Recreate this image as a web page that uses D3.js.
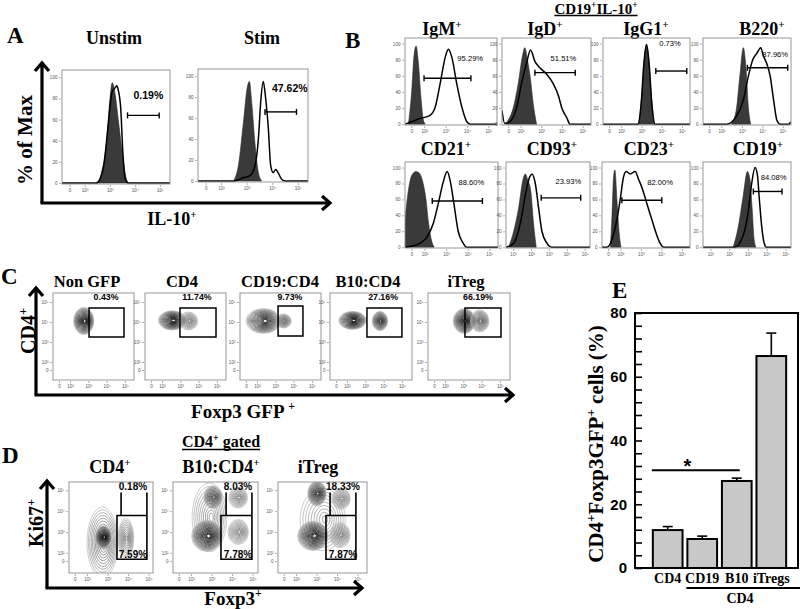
<!DOCTYPE html>
<html><head><meta charset="utf-8">
<script src="https://cdn.jsdelivr.net/npm/d3@7"></script>
<style>body{margin:0;background:#fff}svg{display:block}</style>
</head><body>
<svg id="c" width="800" height="609" xmlns="http://www.w3.org/2000/svg"></svg>
<script>
// ================= DATA =================
// ---- Panel E (bar chart) ----
const eCategories = ["CD4", "CD19", "B10", "iTregs"];
const eValues = [11.9, 9.1, 27.3, 66.5];
const eErrors = [1.1, 0.9, 0.9, 7.2];
const eYTicks = [0, 20, 40, 60, 80];
const eSigLevel = 30.7;
const eSigLabel = "*";
const eGroupLabel = "CD4";

// ---- Flow axis tick labels (log-decade units) ----
const tickLabelsZero = ["0", "10²", "10³", "10⁴", "10⁵"];
const tickPosZero = [1.4, 2, 3, 4, 5];
const tickLabelsTen = ["10¹", "10²", "10³", "10⁴", "10⁵"];
const tickPosTen = [1, 2, 3, 4, 5];
const histYTicks = [0, 20, 40, 60, 80, 100];
const dotYLabels = ["0", "10²", "10³", "10⁴", "10⁵"];
const dotYPos = [1.6, 2, 3, 4, 5];

// ---- Panel A (IL-10 histograms) ----
const aTitles = ["Unstim", "Stim"];
const aPercents = ["0.19%", "47.62%"];
const aFill = [
  [[2.48,0],[2.68,10],[2.88,40],[3.01,80],[3.1,95],[3.21,85],[3.34,60],[3.52,25],[3.67,3],[3.74,0]],
  [[2.49,0],[2.68,15],[2.87,55],[3.03,90],[3.11,95],[3.2,75],[3.33,35],[3.46,8],[3.59,0]]
];
const aLine = [
  [[1.1,0],[2.48,0],[2.75,15],[2.94,55],[3.08,85],[3.14,88],[3.21,90],[3.28,92],[3.34,88],[3.44,70],[3.52,30],[3.61,5],[3.74,0],[5.4,0]],
  [[1.1,0],[2.49,0],[2.87,3],[3.13,5],[3.33,15],[3.46,40],[3.55,75],[3.65,95],[3.74,80],[3.85,50],[3.94,15],[4.04,8],[4.14,11],[4.23,8],[4.36,2],[4.49,0],[5.4,0]]
];
const aGates = [[3.71, 4.97, 64], [3.72, 4.95, 66]];
const aLabelAt = [[4.54, 80], [4.69, 85]];

// ---- Panel B (CD19+IL-10+ phenotype histograms) ----
const bHeader = ["CD19", "^+", "IL-10", "^+"];
const bTitles = ["IgM", "IgD", "IgG1", "B220", "CD21", "CD93", "CD23", "CD19"];
const bPercents = ["95.29%", "51.51%", "0.73%", "87.96%", "88.60%", "23.93%", "82.00%", "84.08%"];
const bTickStyle = ["zero", "zero", "zero", "zero", "zero", "ten", "zero", "ten"];
const bFill = [
  [[1.26,0],[1.41,40],[1.52,85],[1.62,97],[1.73,75],[1.84,35],[1.96,5],[2.05,0]],
  [[1.31,2],[1.64,20],[1.88,50],[2.09,85],[2.2,95],[2.33,80],[2.48,55],[2.61,25],[2.77,0]],
  [[2.84,0],[3.0,30],[3.12,75],[3.25,99],[3.38,75],[3.5,30],[3.66,0]],
  [[2.49,0],[2.74,20],[2.9,60],[3.07,95],[3.2,70],[3.32,20],[3.43,0]],
  [[1.1,35],[1.25,70],[1.41,90],[1.61,95],[1.79,92],[1.94,80],[2.07,60],[2.19,30],[2.33,8],[2.45,0]],
  [[0.75,0],[1.03,20],[1.31,50],[1.55,85],[1.68,92],[1.81,85],[1.99,70],[2.14,30],[2.29,0]],
  [[1.51,0],[1.59,40],[1.67,90],[1.73,97],[1.83,60],[1.93,20],[2.03,0]],
  [[2.21,0],[2.48,25],[2.75,65],[2.97,95],[3.11,85],[3.22,50],[3.33,10],[3.43,0]]
];
const bLine = [
  [[1.1,0],[1.4,3],[1.8,7],[2.27,11],[2.51,21],[2.74,50],[2.98,83],[3.13,93],[3.29,83],[3.52,50],[3.76,21],[3.99,3],[4.15,0],[5.4,0]],
  [[1.1,17],[1.23,1],[1.47,3],[1.8,20],[2.04,50],[2.28,75],[2.48,92],[2.69,78],[2.93,70],[3.26,62],[3.58,50],[3.83,35],[3.99,20],[4.23,8],[4.39,0],[5.4,0]],
  [[1.1,0],[2.84,0],[3.0,30],[3.12,75],[3.25,99],[3.38,75],[3.5,30],[3.66,0],[5.4,0]],
  [[1.1,0],[2.25,0],[2.74,10],[3.07,30],[3.32,60],[3.53,80],[3.73,88],[3.92,95],[4.05,85],[4.22,75],[4.38,60],[4.55,30],[4.71,5],[4.87,0],[5.3,0],[5.38,3]],
  [[1.1,0],[1.64,3],[2.1,12],[2.41,30],[2.64,55],[2.87,82],[3.05,95],[3.2,82],[3.36,55],[3.56,20],[3.79,5],[3.94,0],[5.4,0]],
  [[0.6,0],[1.03,5],[1.4,30],[1.68,65],[1.92,88],[2.05,92],[2.24,80],[2.42,50],[2.61,20],[2.89,5],[3.16,0],[5.3,0]],
  [[1.1,0],[1.34,0],[1.59,10],[1.83,35],[1.99,60],[2.15,88],[2.28,95],[2.48,92],[2.72,95],[2.89,85],[3.05,75],[3.29,55],[3.53,35],[3.78,15],[3.94,5],[4.1,0],[5.4,0]],
  [[0.6,0],[2.3,0],[2.75,15],[3.02,45],[3.2,80],[3.38,100],[3.51,90],[3.61,60],[3.74,25],[3.87,5],[3.99,0],[5.3,0]]
];
const bGates = [[1.99,4.18,57],[2.69,4.64,64],[3.71,5.24,66],[3.27,5.24,70],[2.36,4.68,58],[2.57,4.78,62],[2.07,4.02,59],[3.29,4.82,70]];
const bLabelAt = [[4.15,79],[4.07,78],[4.41,97],[4.63,83],[4.17,78],[4.09,80],[3.94,78],[4.37,85]];

// ---- Panel C (CD4 vs Foxp3 GFP contour plots) ----
const cTitles = ["Non GFP", "CD4", "CD19:CD4", "B10:CD4", "iTreg"];
const cPercents = ["0.43%", "11.74%", "9.73%", "27.16%", "66.19%"];
const cGates = [[3.04,4.95,3.25,4.7],[2.98,4.95,3.25,4.7],[3.15,4.51,3.3,4.8],[3.09,5.0,3.25,4.7],[3.09,5.06,3.25,4.7]];
const cLabelAt = [[3.97,5.08],[3.91,5.08],[3.8,5.08],[3.97,5.08],[3.8,5.08]];
// populations: [centre x, centre y, spread x, spread y, density]
const cPops = [
  [[2.75,4.05,0.55,0.68,1.0]],
  [[2.55,4.08,0.75,0.48,1.0],[3.45,4.05,0.5,0.45,0.45]],
  [[2.35,4.05,0.95,0.62,0.95],[3.45,4.05,0.42,0.35,0.5]],
  [[2.3,4.08,0.75,0.45,1.0],[3.8,4.05,0.42,0.48,0.8]],
  [[3.05,4.05,0.6,0.62,1.0],[3.9,4.05,0.5,0.55,0.6]]
];

// ---- Panel D (Ki67 vs Foxp3 contour plots) ----
const dHeader = ["CD4", "^+", " gated"];
const dTitles = [["CD4", "^+"], ["B10:CD4", "^+"], ["iTreg"]];
const dUpperPct = ["0.18%", "8.03%", "18.33%"];
const dLowerPct = ["7.59%", "7.78%", "7.87%"];
// gate: [upper-left x, lower-left x, right x, top y, middle y, bottom y]
const dGates = [[3.66,3.46,4.92,4.9,3.79,1.69],[3.71,3.46,4.97,4.9,3.79,1.69],[3.66,3.46,4.92,4.9,3.79,1.69]];
const dUpperLabelAt = [[4.24,5.0],[4.29,5.0],[4.29,5.0]];
const dLowerLabelAt = [[4.24,1.74],[4.29,1.74],[4.29,1.74]];
const dPops = [
  [[2.75,2.5,0.75,1.7,0.5],[2.8,2.75,0.38,0.55,1.0],[3.9,2.7,0.38,0.95,0.4]],
  [[2.9,3.7,0.85,1.65,0.3],[2.78,2.81,0.75,0.75,1.0],[3.07,4.67,0.45,0.55,0.7],[4.3,4.65,0.45,0.5,0.4],[4.3,3.0,0.5,0.6,0.45]],
  [[3.3,3.6,1.1,1.5,0.25],[2.83,2.81,0.75,0.7,1.0],[3.02,4.85,0.45,0.6,0.85],[4.14,2.85,0.5,0.6,0.45],[4.2,4.6,0.45,0.5,0.4]]
];

// ================= LAYOUT / STYLE =================
const SERIF = "'Liberation Serif','Times New Roman',serif";
const SANS = "'Liberation Sans',Arial,Helvetica,sans-serif";
const svg = d3.select("#c");
const defs = svg.append("defs");
let clipId = 0;

function rich(parent, x, y, parts, o) {
  const t = parent.append("text")
    .attr("x", x).attr("y", y)
    .attr("font-family", o.family || SERIF)
    .attr("font-size", o.size)
    .attr("font-weight", o.weight || "bold")
    .attr("text-anchor", o.anchor || "middle")
    .attr("fill", "#000");
  if (o.transform) t.attr("transform", o.transform);
  let up = false;
  const shift = o.size * 0.4;
  parts.forEach(p => {
    const sup = p.startsWith("^");
    const ts = t.append("tspan").text(sup ? p.slice(1) : p);
    if (sup) {
      ts.attr("font-size", o.size * 0.62);
      if (!up) { ts.attr("dy", -shift); up = true; }
    } else if (up) { ts.attr("dy", shift); up = false; }
  });
  return t;
}

function underline(t, gap) {
  const bb = t.node().getBBox();
  d3.select(t.node().parentNode).append("line")
    .attr("x1", bb.x).attr("x2", bb.x + bb.width)
    .attr("y1", +t.attr("y") + gap).attr("y2", +t.attr("y") + gap)
    .attr("stroke", "#000").attr("stroke-width", 1.3);
}

function frame(g, box, xDom, yDom, xLabels, xPos, yLabels, yPos) {
  const x = d3.scaleLinear().domain(xDom).range([box.x, box.x + box.w]);
  const y = d3.scaleLinear().domain(yDom).range([box.y + box.h, box.y]);
  const id = "clip" + (clipId++);
  defs.append("clipPath").attr("id", id).append("rect")
    .attr("x", box.x).attr("y", box.y).attr("width", box.w).attr("height", box.h);
  const xa = d3.axisBottom(x).tickValues(xPos).tickSize(2).tickPadding(2)
    .tickFormat((d, i) => xLabels[i]);
  const ya = d3.axisLeft(y).tickValues(yPos).tickSize(2).tickPadding(1.5)
    .tickFormat((d, i) => yLabels[i]);
  const gx = g.append("g").attr("transform", `translate(0,${box.y + box.h + 1})`).call(xa);
  const gy = g.append("g").attr("transform", `translate(${box.x - 1},0)`).call(ya);
  [gx, gy].forEach(a => {
    a.select(".domain").remove();
    a.selectAll("line").attr("stroke", "#777").attr("stroke-width", 0.6);
    a.selectAll("text").attr("font-family", SANS).attr("font-size", 4.6).attr("fill", "#555");
  });
  const inner = g.append("g").attr("clip-path", `url(#${id})`);
  g.append("rect").attr("x", box.x).attr("y", box.y).attr("width", box.w).attr("height", box.h)
    .attr("fill", "none").attr("stroke", "#8c8c8c").attr("stroke-width", 0.9);
  return { x, y, inner };
}

function histogram(f, fill, line, gate, labelAt, pct, labelSize, labelWeight) {
  const area = d3.area().x(d => f.x(d[0])).y0(f.y(0)).y1(d => f.y(d[1])).curve(d3.curveMonotoneX);
  const ln = d3.line().x(d => f.x(d[0])).y(d => f.y(d[1])).curve(d3.curveMonotoneX);
  f.inner.append("path").attr("d", area(fill)).attr("fill", "#3a3a3a").attr("stroke", "#2a2a2a").attr("stroke-width", 0.6);
  f.inner.append("path").attr("d", ln(line)).attr("fill", "none").attr("stroke", "#000").attr("stroke-width", 1.5);
  const gy = f.y(gate[2]);
  const g = f.inner.append("g").attr("stroke", "#000").attr("stroke-width", 1.4);
  g.append("line").attr("x1", f.x(gate[0])).attr("x2", f.x(gate[1])).attr("y1", gy).attr("y2", gy);
  g.append("line").attr("x1", f.x(gate[0])).attr("x2", f.x(gate[0])).attr("y1", gy - 3).attr("y2", gy + 3);
  g.append("line").attr("x1", f.x(gate[1])).attr("x2", f.x(gate[1])).attr("y1", gy - 3).attr("y2", gy + 3);
  f.inner.append("text").attr("x", f.x(labelAt[0])).attr("y", f.y(labelAt[1]))
    .attr("text-anchor", "middle").attr("font-family", SANS).attr("font-size", labelSize)
    .attr("font-weight", labelWeight).text(pct);
}

function populations(f, pops) {
  const col = d3.interpolateRgb("#bdbdbd", "#000");
  pops.forEach(p => {
    const [cx, cy, sx, sy, dens] = p;
    const n = Math.round(6 + dens * 12);
    const rx = Math.abs(f.x(cx + sx) - f.x(cx));
    const ry = Math.abs(f.y(cy + sy) - f.y(cy));
    d3.range(n).forEach(i => {
      const t = n > 1 ? i / (n - 1) : 0;
      const s = 1 - 0.88 * t;
      f.inner.append("ellipse")
        .attr("cx", f.x(cx) + (t * rx * 0.1)).attr("cy", f.y(cy))
        .attr("rx", rx * s).attr("ry", ry * s)
        .attr("fill", "none").attr("stroke", col(Math.min(1, Math.pow(t, 0.6) * dens)))
        .attr("stroke-width", 0.75);
    });
  });
}

function arrowAxes(g, ox, oy, topY, rightX) {
  const s = g.append("g").attr("stroke", "#000").attr("stroke-width", 3.2).attr("fill", "none")
    .attr("stroke-linecap", "butt").attr("stroke-linejoin", "miter");
  s.append("path").attr("d", `M${ox},${oy}V${topY}M${ox - 7},${topY + 9}L${ox},${topY + 1}L${ox + 7},${topY + 9}`);
  s.append("path").attr("d", `M${ox - 1.5},${oy}H${rightX}M${rightX - 9},${oy - 7}L${rightX - 1},${oy}L${rightX - 9},${oy + 7}`);
}

const root = svg.append("g");

// ================= PANEL A =================
{
  const g = root.append("g");
  g.append("text").attr("x", 7).attr("y", 43).attr("font-family", SERIF).attr("font-weight", "bold").attr("font-size", 23).text("A");
  const boxes = [{ x: 62, y: 70, w: 108, h: 114 }, { x: 198, y: 69, w: 110, h: 113 }];
  const titleX = [114, 262];
  boxes.forEach((b, i) => {
    rich(g, titleX[i], 44, [aTitles[i]], { size: 18 });
    const f = frame(g, b, [1.1, 5.4], [-1, 107], tickLabelsZero, tickPosZero, histYTicks.map(String), histYTicks);
    histogram(f, aFill[i], aLine[i], aGates[i], aLabelAt[i], aPercents[i], 10.5, "bold");
  });
  arrowAxes(g, 42, 203, 62, 331);
  rich(g, 0, 0, ["% of Max"], { size: 21, transform: "translate(32,140) rotate(-90)" });
  rich(g, 172, 225, ["IL-10", "^+"], { size: 18 });
}

// ================= PANEL B =================
{
  const g = root.append("g");
  g.append("text").attr("x", 345).attr("y", 48).attr("font-family", SERIF).attr("font-weight", "bold").attr("font-size", 23).text("B");
  const hdr = rich(g, 596, 13.5, bHeader, { size: 15 });
  underline(hdr, 2);
  const boxes = [
    { x: 405, y: 38, w: 92, h: 87 }, { x: 502, y: 38, w: 89, h: 87 }, { x: 603, y: 38, w: 87, h: 87 }, { x: 703, y: 38, w: 88, h: 87 },
    { x: 405, y: 162, w: 93, h: 86 }, { x: 506, y: 162, w: 84, h: 86 }, { x: 602, y: 162, w: 88, h: 86 }, { x: 703, y: 162, w: 88, h: 86 }
  ];
  const titleX = [442, 545, 646, 762, 446, 552, 649, 758];
  boxes.forEach((b, i) => {
    rich(g, titleX[i], i < 4 ? 35 : 155, [bTitles[i], "^+"], { size: 18 });
    const ten = bTickStyle[i] === "ten";
    const f = frame(g, b, ten ? [0.6, 5.3] : [1.1, 5.4], [-1, 107],
      ten ? tickLabelsTen : tickLabelsZero, ten ? tickPosTen : tickPosZero, histYTicks.map(String), histYTicks);
    histogram(f, bFill[i], bLine[i], bGates[i], bLabelAt[i], bPercents[i], 7.6, "normal");
  });
}

// ================= PANEL C =================
{
  const g = root.append("g");
  g.append("text").attr("x", 1).attr("y", 284).attr("font-family", SERIF).attr("font-weight", "bold").attr("font-size", 23).text("C");
  const boxes = [{ x: 53, y: 293, w: 81, h: 87 }, { x: 145, y: 293, w: 81, h: 87 }, { x: 240, y: 293, w: 81, h: 87 }, { x: 330, y: 293, w: 82, h: 87 }, { x: 428, y: 293, w: 82, h: 87 }];
  const titleX = [87, 182, 280, 368, 466];
  boxes.forEach((b, i) => {
    rich(g, titleX[i], 287, [cTitles[i]], { size: 16.5 });
    const f = frame(g, b, [1.07, 1.07 + b.w / 18.3], [1.1, 5.45], tickLabelsZero, tickPosZero, dotYLabels, dotYPos);
    populations(f, cPops[i]);
    const gt = cGates[i];
    f.inner.append("rect").attr("x", f.x(gt[0])).attr("y", f.y(gt[3]))
      .attr("width", f.x(gt[1]) - f.x(gt[0])).attr("height", f.y(gt[2]) - f.y(gt[3]))
      .attr("fill", "none").attr("stroke", "#000").attr("stroke-width", 1.5);
    f.inner.append("text").attr("x", f.x(cLabelAt[i][0])).attr("y", f.y(cLabelAt[i][1]))
      .attr("text-anchor", "middle").attr("font-family", SANS).attr("font-weight", "bold").attr("font-size", 8.8).text(cPercents[i]);
  });
  arrowAxes(g, 36, 395, 287, 514);
  rich(g, 0, 0, ["CD4", "^+"], { size: 20, transform: "translate(35,331) rotate(-90)" });
  rich(g, 243, 418, ["Foxp3 GFP ", "^+"], { size: 19 });
}

// ================= PANEL D =================
{
  const g = root.append("g");
  g.append("text").attr("x", 2).attr("y", 463).attr("font-family", SERIF).attr("font-weight", "bold").attr("font-size", 23).text("D");
  const hdr = rich(g, 221, 447, dHeader, { size: 16 });
  underline(hdr, 2.5);
  const boxes = [{ x: 69, y: 482, w: 84, h: 91 }, { x: 173, y: 482, w: 85, h: 91 }, { x: 278, y: 482, w: 89, h: 91 }];
  const titleX = [110, 221, 318];
  boxes.forEach((b, i) => {
    rich(g, titleX[i], 473, dTitles[i], { size: 18 });
    const f = frame(g, b, [1.12, 1.12 + b.w / 20.5], [1.03, 5.4], tickLabelsZero, tickPosZero, dotYLabels, dotYPos);
    populations(f, dPops[i]);
    const [ul, ll, r, top, mid, bot] = dGates[i];
    f.inner.append("path")
      .attr("d", `M${f.x(ul)},${f.y(top)}V${f.y(mid)}M${f.x(r)},${f.y(top)}V${f.y(mid)}` +
        `M${f.x(ll)},${f.y(mid)}H${f.x(r)}V${f.y(bot)}H${f.x(ll)}Z`)
      .attr("fill", "none").attr("stroke", "#000").attr("stroke-width", 1.6);
    [[dUpperLabelAt[i], dUpperPct[i]], [dLowerLabelAt[i], dLowerPct[i]]].forEach(([p, s]) => {
      f.inner.append("text").attr("x", f.x(p[0])).attr("y", f.y(p[1]))
        .attr("text-anchor", "middle").attr("font-family", SANS).attr("font-weight", "bold").attr("font-size", 10).text(s);
    });
  });
  arrowAxes(g, 47, 588, 480, 363);
  rich(g, 0, 0, ["Ki67", "^+"], { size: 20, transform: "translate(43,523) rotate(-90)" });
  rich(g, 233, 605, ["Foxp3", "^+"], { size: 19 });
}

// ================= PANEL E =================
{
  const g = root.append("g");
  g.append("text").attr("x", 612).attr("y", 298).attr("font-family", SERIF).attr("font-weight", "bold").attr("font-size", 23).text("E");
  const left = 635, right = 798, top = 313, bottom = 568;
  const x = d3.scaleBand().domain(eCategories).range([648, 791]).paddingInner(0.14).paddingOuter(0.14);
  const y = d3.scaleLinear().domain([0, 80]).range([bottom, top]);

  const ax = d3.axisLeft(y).tickValues(d3.range(0, 81, 4)).tickSize(-7).tickPadding(8)
    .tickFormat(d => eYTicks.includes(d) ? d : "");
  const ga = g.append("g").attr("transform", `translate(${left},0)`).call(ax);
  ga.select(".domain").remove();
  ga.selectAll("line").attr("stroke", "#000").attr("stroke-width", 1.6);
  ga.selectAll("text").attr("font-family", SANS).attr("font-weight", "bold").attr("font-size", 15).attr("fill", "#000");

  g.append("rect").attr("x", left).attr("y", top).attr("width", right - left).attr("height", bottom - top)
    .attr("fill", "none").attr("stroke", "#000").attr("stroke-width", 2);

  const bw = x.bandwidth();
  eCategories.forEach((c, i) => {
    const cx = x(c) + bw / 2;
    const yt = y(eValues[i] + eErrors[i]);
    g.append("line").attr("x1", cx).attr("x2", cx).attr("y1", y(eValues[i])).attr("y2", yt).attr("stroke", "#000").attr("stroke-width", 1.6);
    g.append("line").attr("x1", cx - 5).attr("x2", cx + 5).attr("y1", yt).attr("y2", yt).attr("stroke", "#000").attr("stroke-width", 1.6);
    g.append("rect").attr("x", x(c)).attr("y", y(eValues[i])).attr("width", bw).attr("height", y(0) - y(eValues[i]))
      .attr("fill", "#c8c8c8").attr("stroke", "#000").attr("stroke-width", 2);
    g.append("text").attr("x", cx).attr("y", 583).attr("text-anchor", "middle")
      .attr("font-family", SERIF).attr("font-weight", "bold").attr("font-size", 14).text(c);
  });
  // significance bar
  const sx1 = x("CD4") - 1, sx2 = x("B10") + bw * 0.6;
  g.append("line").attr("x1", sx1).attr("x2", sx2).attr("y1", y(eSigLevel)).attr("y2", y(eSigLevel)).attr("stroke", "#000").attr("stroke-width", 2);
  g.append("text").attr("x", x("CD19")).attr("y", y(eSigLevel) + 3).attr("text-anchor", "middle")
    .attr("font-family", SANS).attr("font-weight", "bold").attr("font-size", 20).text(eSigLabel);
  // grouping line
  g.append("line").attr("x1", x("CD19") - 1).attr("x2", 800).attr("y1", 588).attr("y2", 588).attr("stroke", "#000").attr("stroke-width", 1.8);
  g.append("text").attr("x", 740).attr("y", 603).attr("text-anchor", "middle")
    .attr("font-family", SERIF).attr("font-weight", "bold").attr("font-size", 14).text(eGroupLabel);
  rich(g, 0, 0, ["CD4", "^+", "Foxp3GFP", "^+", " cells (%)"], { size: 21, transform: "translate(603,444) rotate(-90)" });
}
</script>
</body></html>
